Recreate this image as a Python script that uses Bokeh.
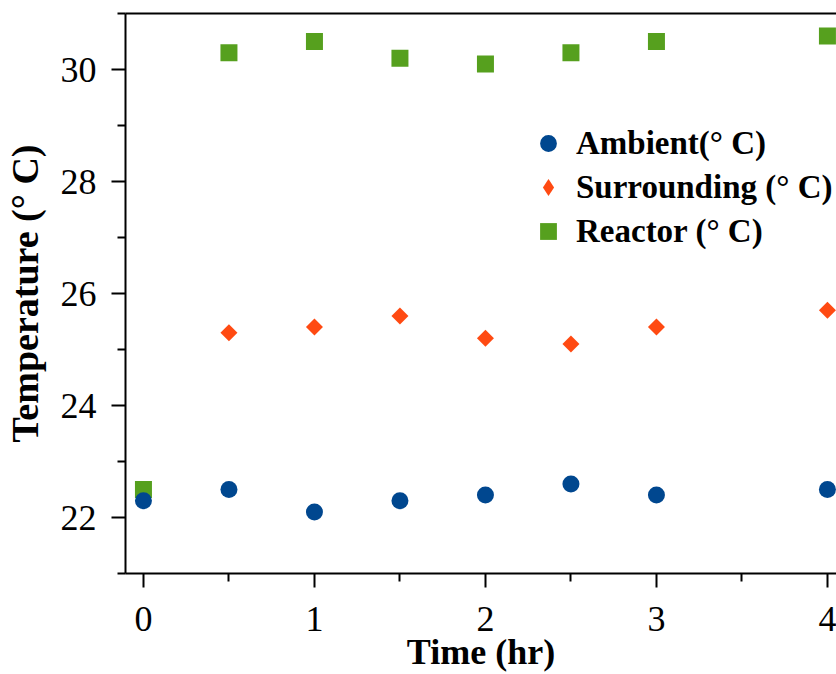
from bokeh.plotting import figure
from bokeh.models import (Range1d, FixedTicker, LinearAxis, Legend, LegendItem,
                          ColumnDataSource)
from bokeh.embed import file_html
from bokeh.resources import INLINE
import math

# ---- data ----
time_amb = [0, 0.5, 1, 1.5, 2, 2.5, 3, 4]
ambient = [22.3, 22.5, 22.1, 22.3, 22.4, 22.6, 22.4, 22.5]

time_sur = [0.5, 1, 1.5, 2, 2.5, 3, 4]
surrounding = [25.3, 25.4, 25.6, 25.2, 25.1, 25.4, 25.7]

time_rea = [0, 0.5, 1, 1.5, 2, 2.5, 3, 4]
reactor = [22.5, 30.3, 30.5, 30.2, 30.1, 30.3, 30.5, 30.6]

x_ticks = [0, 1, 2, 3, 4]
x_minor = [0.5, 1.5, 2.5, 3.5]
y_ticks = [22, 24, 26, 28, 30]
y_minor = [21, 23, 25, 27, 29, 31]

labels = ["Ambient(\u00b0 C)", "Surrounding (\u00b0 C)", "Reactor (\u00b0 C)"]
x_title = "Time (hr)"
y_title = "Temperature (\u00b0 C)"

BLUE = "#00478F"
ORANGE = "#FF4A12"
GREEN = "#56A01E"
FONT = "Liberation Serif"

p = figure(width=836, height=674, output_backend="svg", toolbar_location=None,
           x_range=Range1d(-0.105, 4.053), y_range=Range1d(21, 31),
           min_border_left=125, min_border_right=0, min_border_top=13,
           min_border_bottom=101)
p.outline_line_color = None
p.grid.visible = False
p.background_fill_color = "white"
p.border_fill_color = "white"

src_r = ColumnDataSource(dict(x=time_rea, y=reactor))
src_s = ColumnDataSource(dict(x=time_sur, y=surrounding))
src_a = ColumnDataSource(dict(x=time_amb, y=ambient))

r_rea = p.scatter("x", "y", source=src_r, marker="square", size=17,
                  fill_color=GREEN, line_color=None)
r_sur = p.scatter("x", "y", source=src_s, marker="square", size=12,
                  angle=math.pi / 4, fill_color=ORANGE, line_color=None)
r_sur_leg = p.scatter("x", "y", source=src_s, marker="diamond", size=17,
                      fill_color=ORANGE, line_color=None, visible=False)
r_amb = p.scatter("x", "y", source=src_a, marker="circle", size=17,
                  fill_color=BLUE, line_color=None)

for ax in (p.xaxis[0], p.yaxis[0]):
    ax.axis_line_width = 2
    ax.major_tick_line_width = 2
    ax.minor_tick_line_width = 2
    ax.major_tick_in = 0
    ax.minor_tick_in = 0
    ax.major_tick_out = 14
    ax.minor_tick_out = 8
    ax.major_label_text_font = FONT
    ax.major_label_text_font_size = "36px"
    ax.major_label_text_color = "black"
    ax.axis_label_text_font = FONT
    ax.axis_label_text_font_style = "bold"
    ax.axis_label_text_color = "black"

p.xaxis[0].axis_label_text_font_size = "36px"
p.yaxis[0].axis_label_text_font_size = "38px"
p.xaxis[0].ticker = FixedTicker(ticks=x_ticks, minor_ticks=x_minor)
p.yaxis[0].ticker = FixedTicker(ticks=y_ticks, minor_ticks=y_minor)
p.xaxis[0].axis_label = x_title
p.yaxis[0].axis_label = y_title
p.xaxis[0].major_label_standoff = 19
p.xaxis[0].axis_label_standoff = -2
p.yaxis[0].major_label_standoff = 15
p.yaxis[0].axis_label_standoff = 12

top = LinearAxis(ticker=FixedTicker(ticks=[]), axis_line_width=2,
                 major_tick_line_color=None, minor_tick_line_color=None)
p.add_layout(top, "above")

legend = Legend(items=[
    LegendItem(label=labels[0], renderers=[r_amb]),
    LegendItem(label=labels[1], renderers=[r_sur_leg]),
    LegendItem(label=labels[2], renderers=[r_rea]),
], location=(402, 321))
legend.border_line_color = None
legend.background_fill_alpha = 0
legend.padding = 0
legend.margin = 0
legend.spacing = 2
legend.glyph_width = 42
legend.glyph_height = 42
legend.label_standoff = 7
legend.label_text_font = FONT
legend.label_text_font_style = "bold"
legend.label_text_font_size = "33px"
legend.label_text_color = "black"
p.add_layout(legend)

open("out.html", "w").write(file_html(p, INLINE))
